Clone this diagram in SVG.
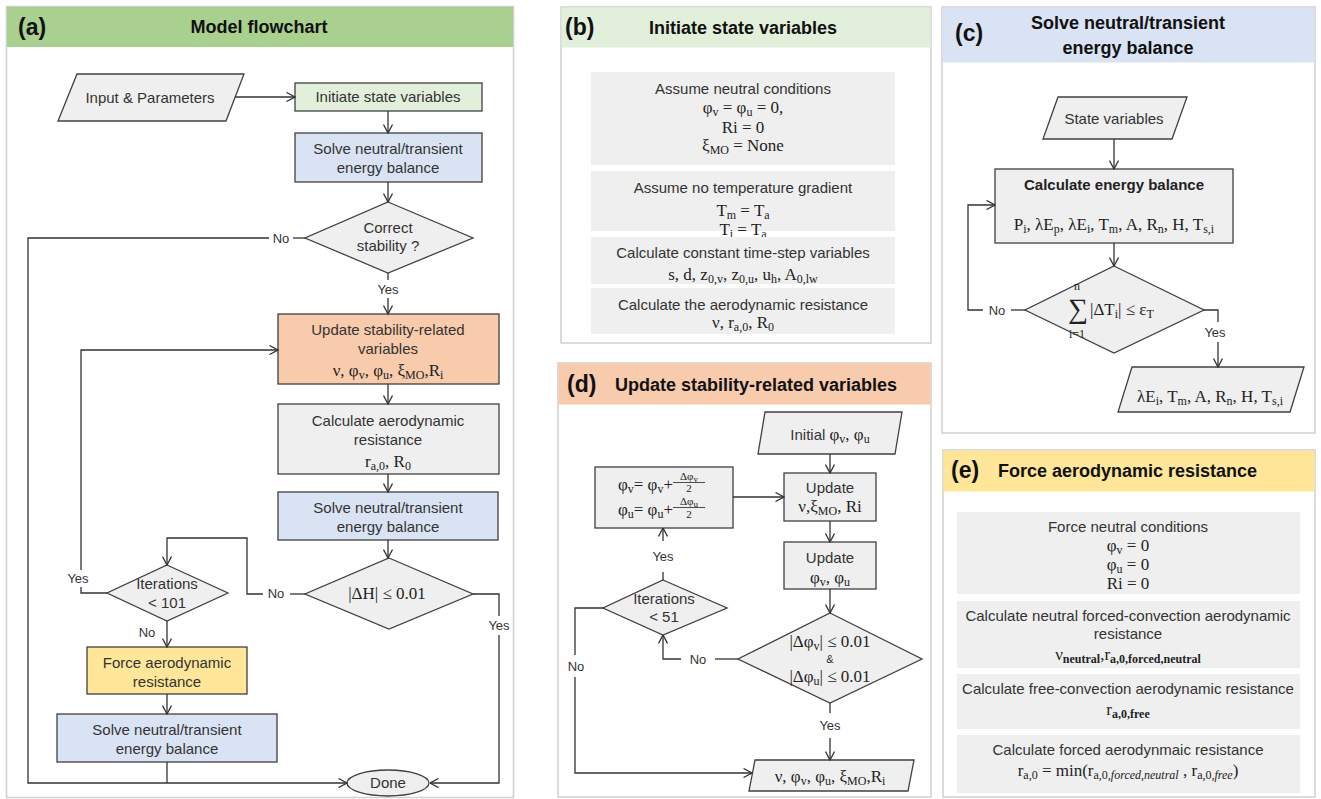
<svg xmlns="http://www.w3.org/2000/svg" width="1321" height="799" viewBox="0 0 1321 799">
<defs>
<marker id="ah" viewBox="0 0 10 10" refX="9.5" refY="5" markerWidth="10" markerHeight="10" markerUnits="userSpaceOnUse" orient="auto">
<path d="M1,0.5 L9.5,5 L1,9.5" fill="none" stroke="#333" stroke-width="1.3"/>
</marker>
<style>
.pb{fill:#fff;stroke:#d0d0d0;stroke-width:1.5}
.n{stroke:#404040;stroke-width:1.3}
.g{fill:#efefef}
.t{font-family:"Liberation Sans",Arial,sans-serif;font-size:15px;fill:#333;text-anchor:middle}
.tb{font-family:"Liberation Sans",Arial,sans-serif;font-size:15px;font-weight:bold;fill:#222;text-anchor:middle}
.m{font-family:"Liberation Serif","Times New Roman",serif;font-size:17px;fill:#222;text-anchor:middle}
.s{font-size:12px}
.lb{font-family:"Liberation Sans",Arial,sans-serif;font-size:13px;fill:#333;text-anchor:middle}
.h{font-family:"Liberation Sans",Arial,sans-serif;font-weight:bold;font-size:18px;fill:#111}
.pl{font-family:"Liberation Sans",Arial,sans-serif;font-weight:bold;font-size:23px;fill:#111}
.c{fill:none;stroke:#333;stroke-width:1.3}
.ca{fill:none;stroke:#333;stroke-width:1.3;marker-end:url(#ah)}
</style>
</defs>
<rect width="1321" height="799" fill="#fff"/>

<!-- Panel frames -->
<g id="panel-a-frame">
<rect class="pb" x="6.5" y="6.5" width="507" height="791"/>
<rect x="7" y="7" width="506" height="40" fill="#a9d08e"/>
<text class="pl" x="18" y="35">(a)</text>
<text class="h" x="259" y="33" text-anchor="middle">Model flowchart</text>
</g>
<g id="panel-b-frame">
<rect class="pb" x="561" y="7" width="370" height="336"/>
<rect x="561.5" y="7.5" width="369" height="40" fill="#e2efda"/>
<text class="pl" x="565" y="35">(b)</text>
<text class="h" x="743" y="34" text-anchor="middle">Initiate state variables</text>
</g>
<g id="panel-c-frame">
<rect class="pb" x="942" y="7" width="373" height="426"/>
<rect x="942.5" y="7.5" width="372" height="55" fill="#dae3f3"/>
<text class="pl" x="955" y="41">(c)</text>
<text class="h" x="1128" y="29" text-anchor="middle">Solve neutral/transient</text>
<text class="h" x="1128" y="54" text-anchor="middle">energy balance</text>
</g>
<g id="panel-d-frame">
<rect class="pb" x="558" y="363" width="373" height="434"/>
<rect x="558.5" y="363.5" width="372" height="41" fill="#f8cbad"/>
<text class="pl" x="567" y="392">(d)</text>
<text class="h" x="615" y="391">Update stability-related variables</text>
</g>
<g id="panel-e-frame">
<rect class="pb" x="943" y="450" width="372" height="347"/>
<rect x="943.5" y="450.5" width="371" height="41" fill="#ffe699"/>
<text class="pl" x="951" y="478">(e)</text>
<text class="h" x="998" y="477">Force aerodynamic resistance</text>
</g>

<!-- Panel (a) nodes -->
<g id="a-input">
<polygon class="n g" points="77,74 244,74 226,121 58,121"/>
<text class="t" x="150" y="103">Input &amp; Parameters</text>
</g>
<g id="a-init">
<rect class="n" x="295" y="83" width="187" height="28" fill="#e2efda"/>
<text class="t" x="388" y="102">Initiate state variables</text>
</g>
<g id="a-solve1">
<rect class="n" x="295" y="133" width="187" height="49" fill="#dae3f3"/>
<text class="t" x="388" y="154">Solve neutral/transient</text>
<text class="t" x="388" y="173">energy balance</text>
</g>
<g id="a-stability">
<polygon class="n g" points="388,202 473,238 388,273 305,238"/>
<text class="t" x="388" y="233">Correct</text>
<text class="t" x="388" y="251">stability ?</text>
</g>
<g id="a-update">
<rect class="n" x="278" y="314" width="221" height="70" fill="#f8cbad"/>
<text class="t" x="388" y="335">Update stability-related</text>
<text class="t" x="388" y="354">variables</text>
<text class="m" x="388" y="376">ν, φ<tspan class="s" dy="3">v</tspan><tspan dy="-3">, φ</tspan><tspan class="s" dy="3">u</tspan><tspan dy="-3">, ξ</tspan><tspan class="s" dy="3">MO</tspan><tspan dy="-3">,R</tspan><tspan class="s" dy="3">i</tspan></text>
</g>
<g id="a-calc">
<rect class="n g" x="278" y="404" width="221" height="70"/>
<text class="t" x="388" y="426">Calculate aerodynamic</text>
<text class="t" x="388" y="445">resistance</text>
<text class="m" x="388" y="467">r<tspan class="s" dy="3">a,0</tspan><tspan dy="-3">, R</tspan><tspan class="s" dy="3">0</tspan></text>
</g>
<g id="a-solve2">
<rect class="n" x="278" y="492" width="220" height="48" fill="#dae3f3"/>
<text class="t" x="388" y="513">Solve neutral/transient</text>
<text class="t" x="388" y="532">energy balance</text>
</g>
<g id="a-dh">
<polygon class="n g" points="389,558 473,594 389,629 305,594"/>
<text class="m" x="387" y="599">|ΔH| ≤ 0.01</text>
</g>
<g id="a-iter">
<polygon class="n g" points="167,565 228,593 167,621 107,593"/>
<text class="t" x="167" y="589">Iterations</text>
<text class="t" x="167" y="608">&lt; 101</text>
</g>
<g id="a-force">
<rect class="n" x="87" y="647" width="160" height="47" fill="#ffe699"/>
<text class="t" x="167" y="668">Force aerodynamic</text>
<text class="t" x="167" y="687">resistance</text>
</g>
<g id="a-solve3">
<rect class="n" x="57" y="714" width="220" height="48" fill="#dae3f3"/>
<text class="t" x="167" y="735">Solve neutral/transient</text>
<text class="t" x="167" y="754">energy balance</text>
</g>
<g id="a-done">
<ellipse class="n g" cx="388" cy="783" rx="41" ry="13"/>
<text class="t" x="388" y="788">Done</text>
</g>

<!-- Panel (b) nodes -->
<g id="b-neutral">
<rect class="g" x="591" y="72" width="304" height="93"/>
<text class="t" x="743" y="94">Assume neutral conditions</text>
<text class="m" x="743" y="113">φ<tspan class="s" dy="3">v</tspan><tspan dy="-3"> = φ</tspan><tspan class="s" dy="3">u</tspan><tspan dy="-3"> = 0,</tspan></text>
<text class="m" x="743" y="133">Ri = 0</text>
<text class="m" x="743" y="151">ξ<tspan class="s" dy="3">MO</tspan><tspan dy="-3"> = None</tspan></text>
</g>
<g id="b-temp">
<rect class="g" x="591" y="171" width="304" height="60"/>
<text class="t" x="743" y="193">Assume no temperature gradient</text>
<text class="m" x="743" y="216">T<tspan class="s" dy="3">m</tspan><tspan dy="-3"> = T</tspan><tspan class="s" dy="3">a</tspan></text>
<text class="m" x="743" y="235">T<tspan class="s" dy="3">i</tspan><tspan dy="-3"> = T</tspan><tspan class="s" dy="3">a</tspan></text>
</g>
<g id="b-const">
<rect class="g" x="591" y="237" width="304" height="47"/>
<text class="t" x="743" y="258">Calculate constant time-step variables</text>
<text class="m" x="743" y="280">s, d, z<tspan class="s" dy="3">0,v</tspan><tspan dy="-3">, z</tspan><tspan class="s" dy="3">0,u</tspan><tspan dy="-3">, u</tspan><tspan class="s" dy="3">h</tspan><tspan dy="-3">, A</tspan><tspan class="s" dy="3">0,lw</tspan></text>
</g>
<g id="b-aero">
<rect class="g" x="591" y="288" width="304" height="46"/>
<text class="t" x="743" y="310">Calculate the aerodynamic resistance</text>
<text class="m" x="743" y="328">ν, r<tspan class="s" dy="3">a,0</tspan><tspan dy="-3">, R</tspan><tspan class="s" dy="3">0</tspan></text>
</g>

<!-- Panel (c) nodes -->
<g id="c-state">
<polygon class="n g" points="1058,97 1187,97 1172,139 1043,139"/>
<text class="t" x="1114" y="124">State variables</text>
</g>
<g id="c-calc">
<rect class="n g" x="995" y="169" width="238" height="74"/>
<text class="tb" x="1114" y="190">Calculate energy balance</text>
<text class="m" x="1114" y="230">P<tspan class="s" dy="3">i</tspan><tspan dy="-3">, λE</tspan><tspan class="s" dy="3">p</tspan><tspan dy="-3">, λE</tspan><tspan class="s" dy="3">i</tspan><tspan dy="-3">, T</tspan><tspan class="s" dy="3">m</tspan><tspan dy="-3">, A, R</tspan><tspan class="s" dy="3">n</tspan><tspan dy="-3">, H, T</tspan><tspan class="s" dy="3">s,i</tspan></text>
</g>
<g id="c-check">
<polygon class="n g" points="1114,266 1204,310 1114,353 1025,310"/>
<text class="m" x="1078" y="318" style="font-size:28px">∑</text>
<text class="m" x="1077" y="290" style="font-size:12px">n</text>
<text class="m" x="1077" y="338" style="font-size:12px">i=1</text>
<text class="m" x="1090" y="315" style="text-anchor:start">|ΔT<tspan class="s" dy="3">i</tspan><tspan dy="-3">| ≤ ε</tspan><tspan class="s" dy="3">T</tspan></text>
</g>
<g id="c-out">
<polygon class="n g" points="1132,367 1304,367 1290,412 1118,412"/>
<text class="m" x="1210" y="402">λE<tspan class="s" dy="3">i</tspan><tspan dy="-3">, T</tspan><tspan class="s" dy="3">m</tspan><tspan dy="-3">, A, R</tspan><tspan class="s" dy="3">n</tspan><tspan dy="-3">, H, T</tspan><tspan class="s" dy="3">s,i</tspan></text>
</g>

<!-- Panel (d) nodes -->
<g id="d-initial">
<polygon class="n g" points="765,412 902,412 895,454 758,454"/>
<text class="t" x="830" y="440">Initial <tspan class="m" style="font-size:17px">φ</tspan><tspan class="m s" dy="3">v</tspan><tspan class="m" style="font-size:17px" dy="-3">, φ</tspan><tspan class="m s" dy="3">u</tspan></text>
</g>
<g id="d-update1">
<rect class="n g" x="784" y="473" width="92" height="48"/>
<text class="t" x="830" y="493">Update</text>
<text class="m" x="830" y="512">ν,ξ<tspan class="s" dy="3">MO</tspan><tspan dy="-3">, Ri</tspan></text>
</g>
<g id="d-update2">
<rect class="n g" x="784" y="542" width="92" height="47"/>
<text class="t" x="830" y="563">Update</text>
<text class="m" x="830" y="583">φ<tspan class="s" dy="3">v</tspan><tspan dy="-3">, φ</tspan><tspan class="s" dy="3">u</tspan></text>
</g>
<g id="d-halve">
<rect class="n g" x="595" y="467" width="138" height="61"/>
<text class="m" x="673" y="490" style="text-anchor:end">φ<tspan class="s" dy="3">v</tspan><tspan dy="-3">= φ</tspan><tspan class="s" dy="3">v</tspan><tspan dy="-3">+</tspan></text>
<line x1="673" y1="482.5" x2="705" y2="482.5" stroke="#222" stroke-width="0.8"/>
<text class="m" x="689" y="480" style="font-size:11px">Δφ<tspan dy="2" style="font-size:9px">v</tspan></text>
<text class="m" x="689" y="492" style="font-size:11px">2</text>
<text class="m" x="673" y="515" style="text-anchor:end">φ<tspan class="s" dy="3">u</tspan><tspan dy="-3">= φ</tspan><tspan class="s" dy="3">u</tspan><tspan dy="-3">+</tspan></text>
<line x1="673" y1="507.5" x2="705" y2="507.5" stroke="#222" stroke-width="0.8"/>
<text class="m" x="689" y="505" style="font-size:11px">Δφ<tspan dy="2" style="font-size:9px">u</tspan></text>
<text class="m" x="689" y="518" style="font-size:11px">2</text>
</g>
<g id="d-iter">
<polygon class="n g" points="663,580 727,608 663,635 603,608"/>
<text class="t" x="664" y="604">Iterations</text>
<text class="t" x="664" y="622">&lt; 51</text>
</g>
<g id="d-check">
<polygon class="n g" points="830,613 922,659 830,703 738,659"/>
<text class="m" x="830" y="647">|Δφ<tspan class="s" dy="3">v</tspan><tspan dy="-3">| ≤ 0.01</tspan></text>
<text class="lb" x="830" y="663" style="font-size:11px">&amp;</text>
<text class="m" x="830" y="682">|Δφ<tspan class="s" dy="3">u</tspan><tspan dy="-3">| ≤ 0.01</tspan></text>
</g>
<g id="d-out">
<polygon class="n g" points="755,760 914,760 908,791 749,791"/>
<text class="m" x="830" y="782">ν, φ<tspan class="s" dy="3">v</tspan><tspan dy="-3">, φ</tspan><tspan class="s" dy="3">u</tspan><tspan dy="-3">, ξ</tspan><tspan class="s" dy="3">MO</tspan><tspan dy="-3">,R</tspan><tspan class="s" dy="3">i</tspan></text>
</g>

<!-- Panel (e) nodes -->
<g id="e-neutral">
<rect class="g" x="957" y="512" width="343" height="82"/>
<text class="t" x="1128" y="532">Force neutral conditions</text>
<text class="m" x="1128" y="551">φ<tspan class="s" dy="3">v</tspan><tspan dy="-3"> = 0</tspan></text>
<text class="m" x="1128" y="570">φ<tspan class="s" dy="3">u</tspan><tspan dy="-3"> = 0</tspan></text>
<text class="m" x="1128" y="589">Ri = 0</text>
</g>
<g id="e-forced">
<rect class="g" x="957" y="601" width="343" height="67"/>
<text class="t" x="1128" y="621">Calculate neutral forced-convection  aerodynamic</text>
<text class="t" x="1128" y="639">resistance</text>
<text class="m" x="1128" y="660">ν<tspan class="s" dy="3" font-weight="bold">neutral</tspan><tspan dy="-3">,r</tspan><tspan class="s" dy="3" font-weight="bold">a,0,forced,neutral</tspan></text>
</g>
<g id="e-free">
<rect class="g" x="957" y="674" width="343" height="55"/>
<text class="t" x="1128" y="694">Calculate free-convection  aerodynamic resistance</text>
<text class="m" x="1128" y="715">r<tspan class="s" dy="3" font-weight="bold">a,0,free</tspan></text>
</g>
<g id="e-min">
<rect class="g" x="957" y="735" width="343" height="58"/>
<text class="t" x="1128" y="755">Calculate forced aerodynmaic resistance</text>
<text class="m" x="1128" y="776">r<tspan class="s" dy="3">a,0</tspan><tspan dy="-3"> = min(r</tspan><tspan class="s" dy="3">a,0,<tspan font-style="italic">forced,neutral</tspan></tspan><tspan dy="-3"> , r</tspan><tspan class="s" dy="3">a,0,<tspan font-style="italic">free</tspan></tspan><tspan dy="-3">)</tspan></text>
</g>

<!-- Connectors -->
<g id="connectors">
<!-- (a) -->
<path class="ca" d="M235,97 H295"/>
<path class="ca" d="M388,111 V133"/>
<path class="ca" d="M388,182 V202"/>
<path class="c" d="M305,238 H293"/>
<path class="ca" d="M269,238 H28 V783 H347"/>
<path class="c" d="M167,762 V783"/>
<path class="c" d="M388,273 V280"/>
<path class="ca" d="M388,298 V314"/>
<path class="ca" d="M388,384 V404"/>
<path class="ca" d="M388,474 V492"/>
<path class="ca" d="M388,540 V558"/>
<path class="c" d="M305,594 H290"/>
<path class="ca" d="M263,594 H247 V538 H167 V565"/>
<path class="c" d="M107,593 H81 V587"/>
<path class="ca" d="M81,570 V350 H278"/>
<path class="ca" d="M167,621 V647"/>
<path class="ca" d="M167,694 V714"/>
<path class="c" d="M473,594 H499 V616"/>
<path class="ca" d="M499,635 V783 H430"/>
<!-- (c) -->
<path class="ca" d="M1114,139 V169"/>
<path class="ca" d="M1114,243 V266"/>
<path class="c" d="M1025,310 H1011"/>
<path class="ca" d="M983,310 H968 V205 H995"/>
<path class="c" d="M1204,310 H1218 V322"/>
<path class="ca" d="M1218,342 V367"/>
<!-- (d) -->
<path class="ca" d="M830,454 V473"/>
<path class="ca" d="M830,521 V542"/>
<path class="ca" d="M830,589 V613"/>
<path class="ca" d="M733,497 H784"/>
<path class="ca" d="M663,541 V528"/>
<path class="c" d="M663,580 V572"/>
<path class="c" d="M738,659 H715"/>
<path class="ca" d="M681,659 H663 V635"/>
<path class="c" d="M603,608 H575 V655"/>
<path class="ca" d="M575,677 V773 H752"/>
<path class="c" d="M830,703 V713"/>
<path class="ca" d="M830,738 V760"/>
</g>

<!-- Connector labels -->
<g id="labels">
<text class="lb" x="281" y="243">No</text>
<text class="lb" x="388" y="294">Yes</text>
<text class="lb" x="276" y="598">No</text>
<text class="lb" x="78" y="583">Yes</text>
<text class="lb" x="147" y="637">No</text>
<text class="lb" x="499" y="630">Yes</text>
<text class="lb" x="997" y="315">No</text>
<text class="lb" x="1215" y="337">Yes</text>
<text class="lb" x="663" y="561">Yes</text>
<text class="lb" x="698" y="664">No</text>
<text class="lb" x="576" y="671">No</text>
<text class="lb" x="830" y="730">Yes</text>
</g>
</svg>
